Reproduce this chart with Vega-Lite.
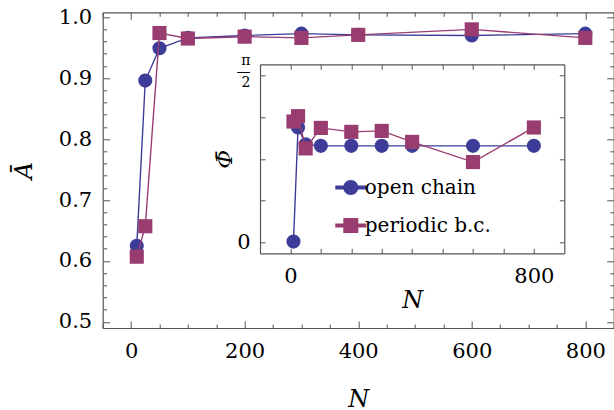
{
  "$schema": "https://vega.github.io/schema/vega-lite/v6.json",
  "width": 511,
  "height": 315.7,
  "autosize": "none",
  "padding": {"left": 102.7, "top": 12.3, "right": 0.3, "bottom": 82},
  "background": "white",
  "datasets": {
    "main": [
      {"N": 10, "A": 0.625, "series": "open chain"},
      {"N": 25, "A": 0.896, "series": "open chain"},
      {"N": 50, "A": 0.949, "series": "open chain"},
      {"N": 100, "A": 0.966, "series": "open chain"},
      {"N": 200, "A": 0.970, "series": "open chain"},
      {"N": 300, "A": 0.973, "series": "open chain"},
      {"N": 400, "A": 0.971, "series": "open chain"},
      {"N": 600, "A": 0.970, "series": "open chain"},
      {"N": 800, "A": 0.973, "series": "open chain"},
      {"N": 10, "A": 0.607, "series": "periodic b.c."},
      {"N": 25, "A": 0.657, "series": "periodic b.c."},
      {"N": 50, "A": 0.974, "series": "periodic b.c."},
      {"N": 100, "A": 0.965, "series": "periodic b.c."},
      {"N": 200, "A": 0.968, "series": "periodic b.c."},
      {"N": 300, "A": 0.966, "series": "periodic b.c."},
      {"N": 400, "A": 0.971, "series": "periodic b.c."},
      {"N": 600, "A": 0.980, "series": "periodic b.c."},
      {"N": 800, "A": 0.966, "series": "periodic b.c."}
    ],
    "inset": [
      {"N": 10, "Phi": 0.01, "series": "open chain"},
      {"N": 25, "Phi": 1.079, "series": "open chain"},
      {"N": 50, "Phi": 0.92, "series": "open chain"},
      {"N": 100, "Phi": 0.907, "series": "open chain"},
      {"N": 200, "Phi": 0.907, "series": "open chain"},
      {"N": 300, "Phi": 0.907, "series": "open chain"},
      {"N": 400, "Phi": 0.907, "series": "open chain"},
      {"N": 600, "Phi": 0.907, "series": "open chain"},
      {"N": 800, "Phi": 0.907, "series": "open chain"},
      {"N": 10, "Phi": 1.135, "series": "periodic b.c."},
      {"N": 25, "Phi": 1.185, "series": "periodic b.c."},
      {"N": 50, "Phi": 0.883, "series": "periodic b.c."},
      {"N": 100, "Phi": 1.075, "series": "periodic b.c."},
      {"N": 200, "Phi": 1.038, "series": "periodic b.c."},
      {"N": 300, "Phi": 1.047, "series": "periodic b.c."},
      {"N": 400, "Phi": 0.944, "series": "periodic b.c."},
      {"N": 600, "Phi": 0.755, "series": "periodic b.c."},
      {"N": 800, "Phi": 1.079, "series": "periodic b.c."}
    ]
  },
  "layer": [
    {
      "data": {"name": "main"},
      "layer": [
        {
          "transform": [{"filter": "datum.series === 'open chain'"}],
          "mark": {"type": "line", "strokeWidth": 1.4, "color": "#3d3d99"},
          "encoding": {
            "x": {"field": "N", "type": "quantitative", "scale": {"domain": [-50, 850], "nice": false, "zero": false},
                  "axis": {"orient": "bottom", "values": [0, 200, 400, 600, 800], "ticks": false, "domain": true, "labelPadding": 12, "title": "N", "titlePadding": 26}},
            "y": {"field": "A", "type": "quantitative", "scale": {"domain": [0.49, 1.008], "nice": false, "zero": false},
                  "axis": {"orient": "left", "values": [0.5, 0.6, 0.7, 0.8, 0.9, 1.0], "format": ".1f", "ticks": false, "domain": true, "labelPadding": 11, "title": "Ā", "titlePadding": 22}}
          }
        },
        {
          "transform": [{"filter": "datum.series === 'open chain'"}],
          "mark": {"type": "point", "shape": "circle", "filled": true, "opacity": 1, "size": 200, "strokeWidth": 0, "color": "#3d3d99"},
          "encoding": {
            "x": {"field": "N", "type": "quantitative", "scale": {"domain": [-50, 850], "nice": false, "zero": false},
                  "axis": {"orient": "bottom", "values": [0, 200, 400, 600, 800], "labels": false, "domain": false, "tickSize": -7, "title": null}},
            "y": {"field": "A", "type": "quantitative", "scale": {"domain": [0.49, 1.008], "nice": false, "zero": false},
                  "axis": {"orient": "left", "values": [0.5, 0.6, 0.7, 0.8, 0.9, 1.0], "labels": false, "domain": false, "tickSize": -7, "title": null}}
          }
        },
        {
          "transform": [{"filter": "datum.series === 'periodic b.c.'"}],
          "mark": {"type": "line", "strokeWidth": 1.4, "color": "#993d71"},
          "encoding": {
            "x": {"field": "N", "type": "quantitative", "scale": {"domain": [-50, 850], "nice": false, "zero": false},
                  "axis": {"orient": "bottom", "values": [-50, 50, 100, 150, 250, 300, 350, 450, 500, 550, 650, 700, 750, 850], "labels": false, "domain": false, "tickSize": -4, "title": null}},
            "y": {"field": "A", "type": "quantitative", "scale": {"domain": [0.49, 1.008], "nice": false, "zero": false},
                  "axis": {"orient": "left", "values": [0.52, 0.54, 0.56, 0.58, 0.62, 0.64, 0.66, 0.68, 0.72, 0.74, 0.76, 0.78, 0.82, 0.84, 0.86, 0.88, 0.92, 0.94, 0.96, 0.98], "labels": false, "domain": false, "tickSize": -4, "title": null}}
          }
        },
        {
          "transform": [{"filter": "datum.series === 'periodic b.c.'"}],
          "mark": {"type": "point", "shape": "square", "filled": true, "opacity": 1, "size": 200, "strokeWidth": 0, "color": "#993d71"},
          "encoding": {
            "x": {"field": "N", "type": "quantitative", "scale": {"domain": [-50, 850], "nice": false, "zero": false},
                  "axis": {"orient": "top", "values": [0, 200, 400, 600, 800], "labels": false, "domain": true, "tickSize": -7, "title": null}},
            "y": {"field": "A", "type": "quantitative", "scale": {"domain": [0.49, 1.008], "nice": false, "zero": false},
                  "axis": {"orient": "right", "values": [0.5, 0.6, 0.7, 0.8, 0.9, 1.0], "labels": false, "domain": true, "tickSize": -7, "title": null}}
          }
        },
        {
          "mark": {"type": "point", "opacity": 0},
          "encoding": {
            "x": {"field": "N", "type": "quantitative", "scale": {"domain": [-50, 850], "nice": false, "zero": false},
                  "axis": {"orient": "top", "values": [-50, 50, 100, 150, 250, 300, 350, 450, 500, 550, 650, 700, 750, 850], "labels": false, "domain": false, "tickSize": -4, "title": null}},
            "y": {"field": "A", "type": "quantitative", "scale": {"domain": [0.49, 1.008], "nice": false, "zero": false},
                  "axis": {"orient": "right", "values": [0.52, 0.54, 0.56, 0.58, 0.62, 0.64, 0.66, 0.68, 0.72, 0.74, 0.76, 0.78, 0.82, 0.84, 0.86, 0.88, 0.92, 0.94, 0.96, 0.98], "labels": false, "domain": false, "tickSize": -4, "title": null}}
          }
        }
      ],
      "resolve": {"axis": {"x": "independent", "y": "independent"}}
    },
    {
      "data": {"name": "inset"},
      "layer": [
        {
          "transform": [{"filter": "datum.series === 'open chain'"}],
          "mark": {"type": "line", "strokeWidth": 1.4, "color": "#3d3d99"},
          "encoding": {
            "x": {"field": "N", "type": "quantitative", "scale": {"domain": [-100, 900], "nice": false, "zero": false, "range": [157.3, 461.6]},
                  "axis": {"orient": "bottom", "offset": -74.7, "values": [0, 800], "ticks": false, "domain": true, "labelPadding": 12, "title": "N", "titlePadding": 2}},
            "y": {"field": "Phi", "type": "quantitative", "scale": {"domain": [-0.1, 1.671], "nice": false, "zero": false, "range": [241, 52]},
                  "axis": {"orient": "left", "offset": -157.3, "values": [0, 1.5708], "labelExpr": "datum.value > 1 ? ['π', '—', '2'] : '0'",
                           "labelFontSize": {"condition": {"test": "datum.value > 1", "value": 14}, "value": 21},
                           "labelOffset": {"condition": {"test": "datum.value > 1", "value": -14}, "value": 0},
                           "labelLineHeight": 11, "ticks": false, "domain": true, "labelPadding": 10,
                           "title": "Φ̄", "titleFontSize": 23, "titlePadding": 0}}
          }
        },
        {
          "transform": [{"filter": "datum.series === 'open chain'"}],
          "mark": {"type": "point", "shape": "circle", "filled": true, "opacity": 1, "size": 200, "strokeWidth": 0, "color": "#3d3d99"},
          "encoding": {
            "x": {"field": "N", "type": "quantitative", "scale": {"domain": [-100, 900], "nice": false, "zero": false, "range": [157.3, 461.6]},
                  "axis": {"orient": "bottom", "offset": -74.7, "values": [0, 100, 200, 300, 400, 500, 600, 700, 800], "labels": false, "domain": false, "tickSize": -5, "title": null}},
            "y": {"field": "Phi", "type": "quantitative", "scale": {"domain": [-0.1, 1.671], "nice": false, "zero": false, "range": [241, 52]},
                  "axis": {"orient": "left", "offset": -157.3, "values": [0, 0.3927, 0.7854, 1.1781, 1.5708], "labels": false, "domain": false, "tickSize": -5, "title": null}}
          }
        },
        {
          "transform": [{"filter": "datum.series === 'periodic b.c.'"}],
          "mark": {"type": "line", "strokeWidth": 1.4, "color": "#993d71"},
          "encoding": {
            "x": {"field": "N", "type": "quantitative", "scale": {"domain": [-100, 900], "nice": false, "zero": false, "range": [157.3, 461.6]},
                  "axis": {"orient": "top", "offset": -52, "values": [0, 100, 200, 300, 400, 500, 600, 700, 800], "labels": false, "domain": true, "tickSize": -5, "title": null}},
            "y": {"field": "Phi", "type": "quantitative", "scale": {"domain": [-0.1, 1.671], "nice": false, "zero": false, "range": [241, 52]},
                  "axis": {"orient": "right", "offset": -49.4, "values": [0, 0.3927, 0.7854, 1.1781, 1.5708], "labels": false, "domain": true, "tickSize": -5, "title": null}}
          }
        },
        {
          "transform": [{"filter": "datum.series === 'periodic b.c.'"}],
          "mark": {"type": "point", "shape": "square", "filled": true, "opacity": 1, "size": 200, "strokeWidth": 0, "color": "#993d71"},
          "encoding": {
            "x": {"field": "N", "type": "quantitative", "scale": {"domain": [-100, 900], "nice": false, "zero": false, "range": [157.3, 461.6]}, "axis": null},
            "y": {"field": "Phi", "type": "quantitative", "scale": {"domain": [-0.1, 1.671], "nice": false, "zero": false, "range": [241, 52]}, "axis": null}
          }
        },
        {
          "mark": {"type": "point", "filled": true, "opacity": 0},
          "encoding": {
            "x": {"field": "N", "type": "quantitative", "scale": {"domain": [-100, 900], "nice": false, "zero": false, "range": [157.3, 461.6]}, "axis": null},
            "y": {"field": "Phi", "type": "quantitative", "scale": {"domain": [-0.1, 1.671], "nice": false, "zero": false, "range": [241, 52]}, "axis": null},
            "color": {"field": "series", "type": "nominal",
                      "scale": {"domain": ["open chain", "periodic b.c."], "range": ["#3d3d99", "#993d71"]},
                      "legend": {"orient": "none", "legendX": 238.1, "legendY": 165.2, "title": null, "symbolSize": 225, "symbolOpacity": 1, "symbolStrokeWidth": 0, "labelFont": "DejaVu Serif", "labelFontSize": 20, "labelColor": "#000", "labelOffset": 4, "rowPadding": 18, "padding": 0}},
            "shape": {"field": "series", "type": "nominal",
                      "scale": {"domain": ["open chain", "periodic b.c."], "range": ["M-2.07,-0.27H2.07V0.27H-2.07Z M1,0A1,1,0,1,1,-1,0A1,1,0,1,1,1,0Z", "M-2.07,-0.27H2.07V0.27H-2.07Z M-1,-1H1V1H-1Z"]},
                      "legend": {"orient": "none", "legendX": 238.1, "legendY": 165.2, "title": null, "symbolSize": 225, "symbolOpacity": 1, "symbolStrokeWidth": 0, "labelFont": "DejaVu Serif", "labelFontSize": 20, "labelColor": "#000", "labelOffset": 4, "rowPadding": 18, "padding": 0}}
          }
        }
      ],
      "resolve": {"axis": {"x": "independent", "y": "independent"}}
    }
  ],
  "resolve": {"scale": {"x": "independent", "y": "independent"}, "axis": {"x": "independent", "y": "independent"}},
  "config": {
    "view": {"stroke": null},
    "axis": {
      "labelFont": "DejaVu Serif", "labelFontSize": 21, "labelColor": "#000",
      "titleFont": "DejaVu Serif", "titleFontSize": 24, "titleFontStyle": "italic", "titleFontWeight": "normal", "titleColor": "#000",
      "domainColor": "#555", "tickColor": "#555", "grid": false, "domainWidth": 1.2, "tickWidth": 1
    },
    "legend": {"labelFont": "DejaVu Serif", "labelFontSize": 20, "labelColor": "#000"}
  }
}
